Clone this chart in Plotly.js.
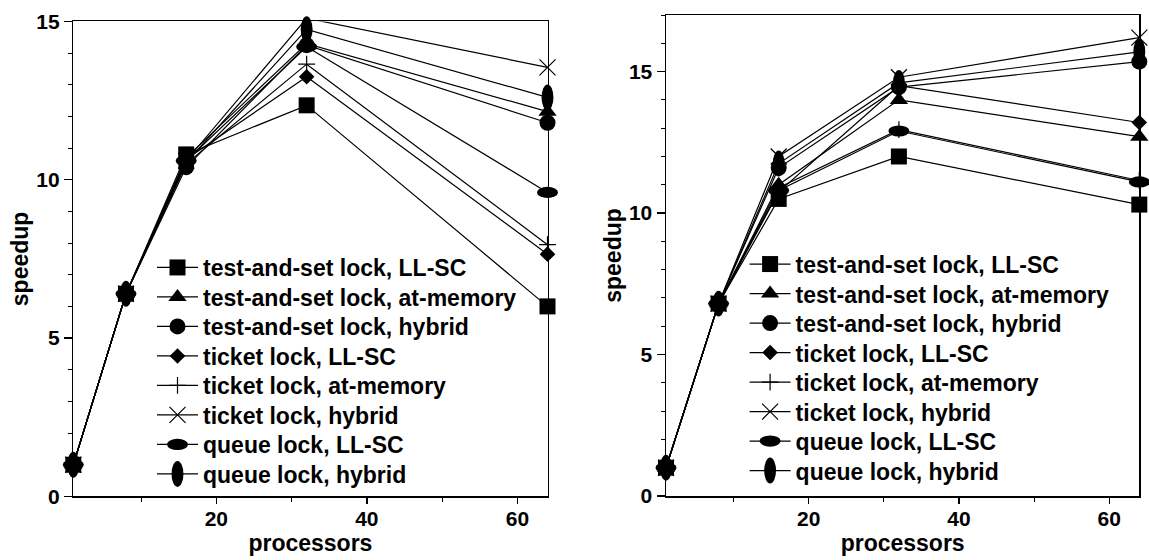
<!DOCTYPE html>
<html><head><meta charset="utf-8">
<script src="https://cdn.plot.ly/plotly-3.0.1.min.js"></script>
<style>html,body{margin:0;padding:0;background:#fff}#chart{width:1149px;height:560px}</style>
</head><body><div id="chart"></div>
<script>
// ---- data ----
const processors = [1, 8, 16, 32, 64];
const seriesNames = [
  'test-and-set lock, LL-SC',
  'test-and-set lock, at-memory',
  'test-and-set lock, hybrid',
  'ticket lock, LL-SC',
  'ticket lock, at-memory',
  'ticket lock, hybrid',
  'queue lock, LL-SC',
  'queue lock, hybrid'
];
// left panel
const leftTasLLSC      = [1, 6.4, 10.8, 12.35, 6.0];
const leftTasAtMemory  = [1, 6.4, 10.7, 14.3, 12.15];
const leftTasHybrid    = [1, 6.4, 10.4, 14.25, 11.8];
const leftTicketLLSC   = [1, 6.4, 10.65, 13.25, 7.65];
const leftTicketAtMem  = [1, 6.4, 10.5, 13.65, 7.95];
const leftTicketHybrid = [1, 6.4, 10.6, 15.1, 13.55];
const leftQueueLLSC    = [1, 6.4, 10.6, 14.2, 9.6];
const leftQueueHybrid  = [1, 6.4, 10.55, 14.75, 12.6];
// right panel
const rightTasLLSC      = [1, 6.8, 10.5, 12.0, 10.3];
const rightTasAtMemory  = [1, 6.8, 11.0, 14.0, 12.7];
const rightTasHybrid    = [1, 6.8, 11.6, 14.45, 15.35];
const rightTicketLLSC   = [1, 6.8, 10.75, 14.5, 13.2];
const rightTicketAtMem  = [1, 6.8, 10.9, 12.95, 11.15];
const rightTicketHybrid = [1, 6.8, 12.0, 14.8, 16.2];
const rightQueueLLSC    = [1, 6.8, 10.8, 12.9, 11.1];
const rightQueueHybrid  = [1, 6.8, 11.75, 14.6, 15.7];
// ticks
const xTickVals = [20, 40, 60];
const xMinorVals = [10, 30, 50];
const yTickValsLeft = [0, 5, 10, 15];
const yTickValsRight = [0, 5, 10, 15];

const leftSeries = [leftTasLLSC, leftTasAtMemory, leftTasHybrid, leftTicketLLSC, leftTicketAtMem, leftTicketHybrid, leftQueueLLSC, leftQueueHybrid];
const rightSeries = [rightTasLLSC, rightTasAtMemory, rightTasHybrid, rightTicketLLSC, rightTicketAtMem, rightTicketHybrid, rightQueueLLSC, rightQueueHybrid];

// ---- styles ----
const markerStyles = [
  {symbol: 'square', size: 16},
  {symbol: 'triangle-up', size: 16},
  {symbol: 'circle', size: 16},
  {symbol: 'diamond', size: 12},
  {symbol: 'cross-thin', size: 12, thin: true},
  {symbol: 'x-thin', size: 16, thin: true},
  {symbol: 'circle', size: 14, scale: [1.5, 0.8]},
  {symbol: 'circle', size: 14, scale: [0.85, 1.85]}
];

function makeTrace(i, ys, side) {
  const st = markerStyles[i];
  return {
    type: 'scatter', mode: 'lines+markers',
    x: processors, y: ys, name: seriesNames[i],
    uid: side + 's' + i,
    xaxis: side === 'L' ? 'x' : 'x2', yaxis: side === 'L' ? 'y' : 'y2',
    legend: side === 'L' ? 'legend' : 'legend2',
    cliponaxis: false,
    line: {color: '#000', width: 1.2},
    marker: {symbol: st.symbol, size: st.size, color: '#000',
             line: {color: '#000', width: st.thin ? 1.2 : 0}}
  };
}
const traces = [];
leftSeries.forEach((s, i) => traces.push(makeTrace(i, s, 'L')));
rightSeries.forEach((s, i) => traces.push(makeTrace(i, s, 'R')));

const W = 1149, H = 560;
const fontFam = '"Liberation Sans", Arial, Helvetica, sans-serif';
function xAxis(domain) {
  return {
    domain: domain, range: [1, 64], tickmode: 'array', tickvals: xTickVals,
    ticks: 'outside', ticklen: 6, tickwidth: 1.3, tickcolor: '#000', ticklabelstandoff: -3,
    minor: {tickmode: 'array', tickvals: xMinorVals, ticks: 'outside', ticklen: 4, tickwidth: 1, tickcolor: '#000', showgrid: false},
    showline: true, mirror: true, linecolor: '#000', linewidth: 1.5,
    showgrid: false, zeroline: false, automargin: false,
    tickfont: {size: 21, weight: 'bold', color: '#000'},
    title: {text: 'processors', font: {size: 23, weight: 'bold', color: '#000'}, standoff: 0}
  };
}
function yAxis(domain, range, tv, anchor) {
  return {
    domain: domain, range: range, tickmode: 'array', tickvals: tv, anchor: anchor,
    ticks: 'outside', ticklen: 8, tickwidth: 1.3, tickcolor: '#000',
    minor: {dtick: 1, tick0: 0, ticks: 'outside', ticklen: 4, tickwidth: 1, tickcolor: '#000', showgrid: false},
    showline: true, mirror: true, linecolor: '#000', linewidth: 1.5,
    showgrid: false, zeroline: false, automargin: false,
    tickfont: {size: 21, weight: 'bold', color: '#000'},
    title: {text: 'speedup', font: {size: 23, weight: 'bold', color: '#000'}, standoff: 1}
  };
}
const layout = {
  width: W, height: H,
  margin: {l: 0, r: 0, t: 0, b: 0},
  paper_bgcolor: '#fff', plot_bgcolor: '#fff',
  font: {family: fontFam, color: '#000', weight: 'bold'},
  showlegend: true,
  xaxis: Object.assign(xAxis([73.3 / W, 547.5 / W]), {anchor: 'y'}),
  yaxis: yAxis([1 - 496.4 / H, 1 - 21.4 / H], [0, 15], yTickValsLeft, 'x'),
  xaxis2: Object.assign(xAxis([666 / W, 1139.3 / W]), {anchor: 'y2'}),
  yaxis2: yAxis([1 - 496 / H, 1 - 15 / H], [0, 17], yTickValsRight, 'x2'),
  legend: {x: 152 / W, y: 1 - 246 / H, xanchor: 'left', yanchor: 'top', bgcolor: 'rgba(0,0,0,0)', borderwidth: 0,
           font: {size: 23, weight: 'bold', family: fontFam}, itemwidth: 41, tracegroupgap: 0},
  legend2: {x: 744.6 / W, y: 1 - 242.6 / H, xanchor: 'left', yanchor: 'top', bgcolor: 'rgba(0,0,0,0)', borderwidth: 0,
           font: {size: 23, weight: 'bold', family: fontFam}, itemwidth: 41, tracegroupgap: 0}
};

const gd = document.getElementById('chart');
Plotly.newPlot(gd, traces, layout, {staticPlot: true, displayModeBar: false}).then(() => {
  // stretch circle markers into ellipses for the queue-lock series
  traces.forEach((t, k) => {
    const st = markerStyles[k % 8];
    if (!st.scale) return;
    gd.querySelectorAll('.trace' + t.uid + ' path.point').forEach(p => {
      const tr = p.getAttribute('transform') || '';
      p.setAttribute('transform', tr + ' scale(' + st.scale[0] + ',' + st.scale[1] + ')');
    });
  });
  ['legend', 'legend2'].forEach(lid => {
    const items = gd.querySelectorAll('g.' + lid + ' g.traces');
    let y0 = null;
    items.forEach((el, idx) => {
      const tr = el.getAttribute('transform') || '';
      const m = tr.match(/translate\(([-\d.]+)[ ,]+([-\d.]+)\)/);
      if (m) {
        if (y0 === null) y0 = parseFloat(m[2]);
        el.setAttribute('transform', 'translate(' + m[1] + ',' + (y0 + idx * 29.5) + ')');
      }
      const d = el.__data__;
      const trace = d && d[0] && d[0].trace;
      if (!trace) return;
      const st = markerStyles[parseInt(trace.uid.slice(2), 10)];
      if (st && st.scale) {
        el.querySelectorAll('path.scatterpts').forEach(p => {
          const t2 = p.getAttribute('transform') || '';
          p.setAttribute('transform', t2 + ' scale(' + st.scale[0] + ',' + st.scale[1] + ')');
        });
      }
    });
  });
});
</script>
</body></html>
